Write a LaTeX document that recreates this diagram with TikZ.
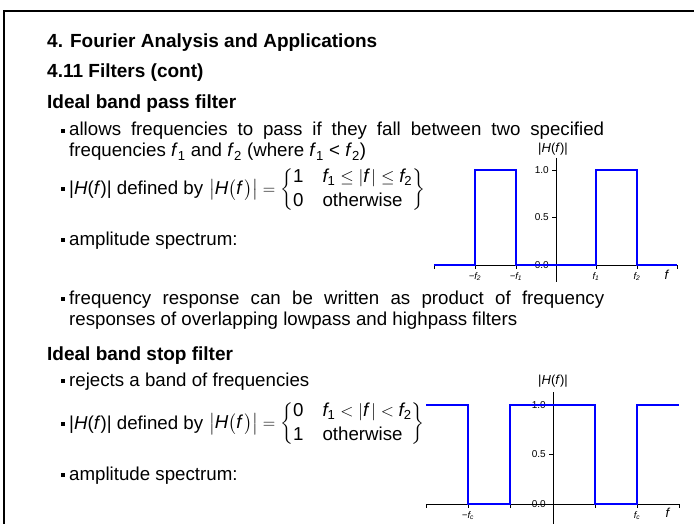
\documentclass[tikz,border=0pt]{standalone}
\usepackage{amsmath}
\usepackage{fontspec}
\setmainfont{Liberation Sans}
\usetikzlibrary{positioning}

\begin{document}
\begin{tikzpicture}[x=1pt, y=-1pt,
    head/.style={anchor=base west, inner sep=0pt, font=\fontsize{19}{22}\selectfont\bfseries},
    txt/.style={anchor=base west, inner sep=0pt, font=\fontsize{18.7}{21.5}\selectfont},
    eqn/.style={anchor=west, inner sep=0pt, font=\fontsize{18.7}{21.5}\selectfont},
    bul/.style={fill, inner sep=0pt, minimum size=4.6pt},
    ax/.style={line width=0.9pt},
    resp/.style={blue, line width=1.4pt},
    num/.style={anchor=east, inner sep=1pt, font=\fontsize{10}{12}\selectfont},
    flab/.style={anchor=north, inner sep=0pt, font=\fontsize{9.5}{10}\selectfont\itshape},
    hlab/.style={inner sep=0pt, font=\fontsize{13}{15}\selectfont}
]
\useasboundingbox (0,0) rectangle (694,524);
\draw[line width=2.2pt] (4,524) -- (4,11) -- (694,11);

\node[head] (title) at (47,48) {4. Fourier Analysis and Applications};
\node[head] (sec) at (47,78) {4.11 Filters (cont)};
\node[head] (bp) at (47,109) {Ideal band pass filter};

\node[bul] (b1) at (63,131) {};
\node[txt] (bp1a) at (69,136) {\makebox[535pt][s]{allows frequencies to pass if they fall between two specified}};
\node[txt] (bp1b) at (69,157) {frequencies \textit{f}\textsubscript{1} and \textit{f}\textsubscript{2} (where \textit{f}\textsubscript{1} < \textit{f}\textsubscript{2})};
\node[bul] (b2) at (63,189) {};
\node[txt] (bp2) at (69,194) {|\textit{H}(\textit{f})| defined by};
\node[eqn] (eqbp) at (209,190) {$\left|\textit{H}\big(\textit{f}\,\big)\right| = \left\{\begin{array}{@{}l@{\hspace{19pt}}l@{}}\text{1} & \textit{f}_{\text{1}} \le \left|\textit{f}\,\right| \le \textit{f}_{\text{2}}\\[2pt] \text{0} & \text{otherwise}\end{array}\right\}$};
\node[bul] (b3) at (63,240) {};
\node[txt] (bp3) at (69,245) {amplitude spectrum:};
\node[bul] (b4) at (63,299) {};
\node[txt] (bp4a) at (69,304) {\makebox[535pt][s]{frequency response can be written as product of frequency}};
\node[txt] (bp4b) at (69,325) {responses of overlapping lowpass and highpass filters};

\node[head] (bs) at (47,360) {Ideal band stop filter};
\node[bul] (b5) at (63,381) {};
\node[txt] (bs1) at (69,386) {rejects a band of frequencies};
\node[bul] (b6) at (63,424) {};
\node[txt] (bs2) at (69,429) {|\textit{H}(\textit{f})| defined by};
\node[eqn] (eqbs) at (209,424) {$\left|\textit{H}\big(\textit{f}\,\big)\right| = \left\{\begin{array}{@{}l@{\hspace{19pt}}l@{}}\text{0} & \textit{f}_{\text{1}} < \left|\textit{f}\,\right| < \textit{f}_{\text{2}}\\[2pt] \text{1} & \text{otherwise}\end{array}\right\}$};
\node[bul] (b7) at (63,475) {};
\node[txt] (bs3) at (69,480) {amplitude spectrum:};

\draw[ax] (434,265) -- (677,265);
\draw[ax] (556,158) -- (556,282);
\foreach \x in {434,475,516,596,637,677} \draw[ax] (\x,265) -- (\x,269);
\foreach \y/\v in {170/1.0,217.5/0.5,265/0.0} {
  \draw[ax] (552,\y) -- (556,\y);
  \node[num] at (550,\y) {\v};
}
\draw[resp] (434,265) -- (475,265) -- (475,170) -- (516,170) -- (516,265) -- (596,265) -- (596,170) -- (637,170) -- (637,265) -- (677,265);
\node[hlab] (hbp) at (553,149) {|\textit{H}(\textit{f})|};
\node[flab] (mf2) at (475,272) {−f\textsubscript{2}};
\node[flab] (mf1) at (516,272) {−f\textsubscript{1}};
\node[flab] (pf1) at (596,272) {f\textsubscript{1}};
\node[flab] (pf2) at (637,272) {f\textsubscript{2}};
\node[hlab, anchor=north] (fbp) at (667,270) {\textit{f}};

\draw[ax] (426,504) -- (679,504);
\draw[ax] (553,392) -- (553,524);
\foreach \x in {426,468,510,595,637,679} \draw[ax] (\x,504) -- (\x,508);
\foreach \y/\v in {405/1.0,454.5/0.5,504/0.0} {
  \draw[ax] (549,\y) -- (553,\y);
  \node[num] at (547,\y) {\v};
}
\draw[resp] (426,405) -- (468,405) -- (468,504) -- (510,504) -- (510,405) -- (595,405) -- (595,504) -- (637,504) -- (637,405) -- (679,405);
\node[hlab] (hbs) at (553,381) {|\textit{H}(\textit{f})|};
\node[flab] (mfc) at (468,511) {−f\textsubscript{c}};
\node[flab] (pfc) at (637,511) {f\textsubscript{c}};
\node[hlab, anchor=north] (fbs) at (668,508) {\textit{f}};
\end{tikzpicture}
\end{document}
